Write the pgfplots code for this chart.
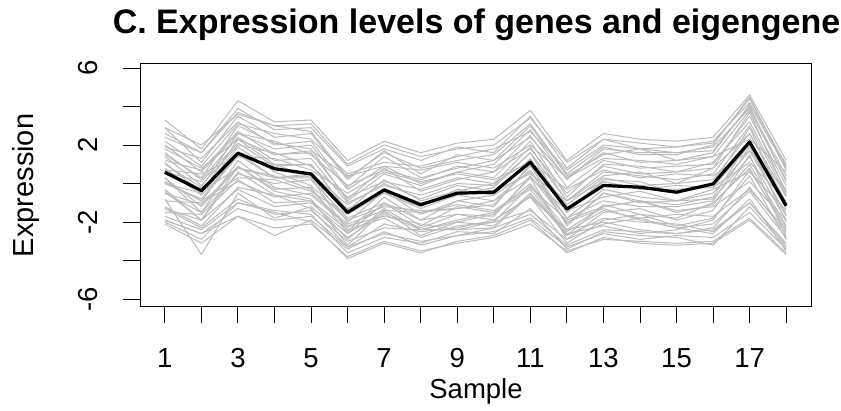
\documentclass[border=0pt]{standalone}
\usepackage{pgfplots}
\pgfplotsset{compat=1.18}
\usepackage{fontspec}
\setmainfont{Liberation Sans}
\definecolor{gl}{HTML}{BBBBBB}
\begin{document}
\begin{tikzpicture}[x=1pt,y=1pt]
\path[use as bounding box] (0pt,0pt) rectangle (841pt,410pt);
\begin{axis}[
  at={(140pt,104pt)}, anchor=south west,
  width=671pt, height=243pt, scale only axis,
  xmin=0.32, xmax=18.68, ymin=-6.36, ymax=6.26,
  axis line style={line width=0.9pt, black},
  xtick={1,...,18},
  xticklabels={1,,3,,5,,7,,9,,11,,13,,15,,17,},
  ytick={-6,-4,-2,0,2,4,6},
  yticklabels={-6,,-2,,2,,6},
  tick align=outside, xtick pos=lower, ytick pos=left,
  major tick length=17pt,
  tick style={line width=0.9pt, black},
  ticklabel style={font=\fontsize{27.5}{33}\selectfont},
  xticklabel style={anchor=base, yshift=-44pt},
  yticklabel style={xshift=-25pt, rotate=90, anchor=base},
  clip=false,
  every axis plot/.append style={line join=round},
]
\pgfplotsset{gline/.style={gl, line width=1pt}}
\addplot[gline] coordinates {(1,3.3)(2,1.8)(3,4.3)(4,3.2)(5,3.3)(6,1.2)(7,2.2)(8,1.6)(9,2.1)(10,2.3)(11,3.8)(12,1.2)(13,2.6)(14,2.3)(15,2.2)(16,2.4)(17,4.6)(18,1.2)};
\addplot[gline] coordinates {(1,2.6)(2,1.6)(3,3.9)(4,2.8)(5,2.9)(6,0.9)(7,1.8)(8,1.2)(9,1.9)(10,1.6)(11,3.5)(12,0.8)(13,2.3)(14,1.8)(15,1.9)(16,2.1)(17,4.4)(18,0.9)};
\addplot[gline] coordinates {(1,2.9)(2,1.1)(3,3.5)(4,2.4)(5,2.6)(6,0.2)(7,1.7)(8,0.5)(9,1.5)(10,1.2)(11,3.0)(12,0.4)(13,1.5)(14,1.8)(15,1.2)(16,1.6)(17,4.1)(18,0.8)};
\addplot[gline] coordinates {(1,1.9)(2,1.3)(3,3.2)(4,2.0)(5,2.2)(6,-0.2)(7,1.4)(8,0.3)(9,0.8)(10,1.2)(11,2.4)(12,0.3)(13,1.6)(14,1.1)(15,1.2)(16,1.4)(17,3.8)(18,0.2)};
\addplot[gline] coordinates {(1,2.0)(2,0.6)(3,2.6)(4,2.2)(5,1.5)(6,-0.1)(7,0.7)(8,0.2)(9,0.9)(10,0.6)(11,2.5)(12,-0.2)(13,1.2)(14,0.8)(15,0.9)(16,1.0)(17,3.5)(18,-0.1)};
\addplot[gline] coordinates {(1,1.2)(2,0.7)(3,2.7)(4,1.5)(5,1.6)(6,-0.8)(7,0.8)(8,-0.4)(9,0.2)(10,0.6)(11,1.8)(12,-0.5)(13,0.9)(14,0.5)(15,0.6)(16,1.1)(17,3.2)(18,-0.4)};
\addplot[gline] coordinates {(1,1.4)(2,-0.1)(3,2.0)(4,1.6)(5,0.9)(6,-0.7)(7,0.1)(8,-0.3)(9,0.3)(10,0.0)(11,1.9)(12,-0.9)(13,0.4)(14,0.6)(15,0.0)(16,0.8)(17,2.6)(18,-0.7)};
\addplot[gline] coordinates {(1,0.6)(2,0.1)(3,2.1)(4,0.9)(5,1.0)(6,-1.4)(7,0.2)(8,-0.9)(9,-0.4)(10,0.0)(11,1.2)(12,-1.1)(13,0.3)(14,-0.1)(15,0.0)(16,0.2)(17,2.6)(18,-1.0)};
\addplot[gline] coordinates {(1,0.8)(2,-0.6)(3,1.4)(4,1.0)(5,0.3)(6,-1.3)(7,-0.5)(8,-1.2)(9,-0.3)(10,-0.6)(11,1.3)(12,-1.5)(13,0.1)(14,-0.3)(15,-0.3)(16,-0.2)(17,2.0)(18,-1.3)};
\addplot[gline] coordinates {(1,0.1)(2,-0.9)(3,1.5)(4,0.3)(5,0.4)(6,-2.0)(7,-0.4)(8,-1.6)(9,-0.9)(10,-0.6)(11,0.6)(12,-1.8)(13,-0.3)(14,-0.7)(15,-0.9)(16,-0.5)(17,1.7)(18,-1.6)};
\addplot[gline] coordinates {(1,0.3)(2,-1.2)(3,0.8)(4,0.4)(5,-0.3)(6,-2.3)(7,-1.1)(8,-1.5)(9,-1.3)(10,-0.9)(11,0.7)(12,-2.1)(13,-0.5)(14,-1.0)(15,-0.9)(16,-0.8)(17,1.4)(18,-1.9)};
\addplot[gline] coordinates {(1,-0.5)(2,-1.1)(3,0.9)(4,-0.3)(5,-0.2)(6,-2.6)(7,-1.0)(8,-2.2)(9,-1.2)(10,-1.5)(11,0.0)(12,-2.4)(13,-1.2)(14,-0.9)(15,-1.5)(16,-1.1)(17,1.0)(18,-2.2)};
\addplot[gline] coordinates {(1,-0.4)(2,-1.9)(3,0.6)(4,-0.6)(5,-0.9)(6,-2.9)(7,-1.3)(8,-2.4)(9,-1.9)(10,-1.5)(11,-0.3)(12,-2.7)(13,-1.1)(14,-1.6)(15,-1.8)(16,-1.0)(17,0.8)(18,-2.5)};
\addplot[gline] coordinates {(1,-1.2)(2,-2.2)(3,-0.2)(4,-0.6)(5,-1.3)(6,-3.3)(7,-2.1)(8,-2.5)(9,-2.3)(10,-1.9)(11,-0.7)(12,-3.1)(13,-1.9)(14,-1.6)(15,-2.2)(16,-1.8)(17,0.4)(18,-2.9)};
\addplot[gline] coordinates {(1,-2.1)(2,-3.1)(3,-1.7)(4,-2.3)(5,-2.1)(6,-3.8)(7,-3.0)(8,-3.5)(9,-3.1)(10,-2.8)(11,-2.1)(12,-3.5)(13,-2.9)(14,-3.0)(15,-3.1)(16,-3.0)(17,-1.8)(18,-3.6)};
\addplot[gline] coordinates {(1,-1.9)(2,-2.6)(3,-1.3)(4,-1.9)(5,-1.7)(6,-3.3)(7,-2.6)(8,-3.0)(9,-2.7)(10,-2.3)(11,-1.6)(12,-3.2)(13,-2.4)(14,-2.5)(15,-2.6)(16,-2.4)(17,-1.0)(18,-3.1)};
\addplot[gline] coordinates {(1,-1.3)(2,-2.3)(3,-0.8)(4,-1.6)(5,-1.4)(6,-3.0)(7,-2.3)(8,-2.4)(9,-2.4)(10,-2.0)(11,-1.4)(12,-2.9)(13,-2.1)(14,-1.8)(15,-2.3)(16,-2.1)(17,-0.4)(18,-2.8)};
\addplot[gline] coordinates {(1,-1.3)(2,-1.9)(3,-0.3)(4,-1.2)(5,-1.0)(6,-2.6)(7,-1.5)(8,-2.3)(9,-1.6)(10,-1.9)(11,-0.7)(12,-2.5)(13,-1.4)(14,-1.8)(15,-1.6)(16,-1.7)(17,-0.3)(18,-2.4)};
\addplot[gline] coordinates {(1,-0.9)(2,-1.0)(3,0.1)(4,-0.7)(5,-0.5)(6,-2.1)(7,-1.4)(8,-1.5)(9,-1.1)(10,-1.4)(11,-0.2)(12,-1.9)(13,-1.2)(14,-0.9)(15,-1.4)(16,-1.2)(17,0.1)(18,-1.9)};
\addplot[gline] coordinates {(1,0.1)(2,-0.9)(3,0.3)(4,0.2)(5,-0.4)(6,-1.6)(7,-0.5)(8,-1.3)(9,-0.6)(10,-0.9)(11,0.3)(12,-1.4)(13,-0.7)(14,-0.4)(15,-0.9)(16,-0.3)(17,0.6)(18,-1.4)};
\addplot[gline] coordinates {(1,0.5)(2,-0.4)(3,0.8)(4,0.3)(5,0.5)(6,-1.1)(7,0.0)(8,-0.8)(9,-0.1)(10,-0.4)(11,0.5)(12,-0.9)(13,0.1)(14,-0.3)(15,-0.1)(16,-0.2)(17,1.1)(18,-0.9)};
\addplot[gline] coordinates {(1,0.7)(2,0.5)(3,1.4)(4,1.3)(5,0.7)(6,-0.5)(7,0.6)(8,0.1)(9,0.5)(10,0.2)(11,1.1)(12,-0.3)(13,0.7)(14,0.3)(15,0.5)(16,0.4)(17,1.7)(18,-0.3)};
\addplot[gline] coordinates {(1,1.8)(2,0.8)(3,2.3)(4,1.5)(5,1.7)(6,0.4)(7,0.9)(8,0.7)(9,1.1)(10,0.8)(11,2.0)(12,0.3)(13,1.3)(14,1.2)(15,1.0)(16,1.4)(17,2.3)(18,0.6)};
\addplot[gline] coordinates {(1,2.4)(2,1.6)(3,3.7)(4,3.0)(5,2.7)(6,0.3)(7,1.6)(8,0.8)(9,1.2)(10,1.5)(11,3.1)(12,0.5)(13,1.9)(14,1.5)(15,1.5)(16,2.0)(17,4.5)(18,0.7)};
\addplot[gline] coordinates {(1,1.5)(2,0.3)(3,3.0)(4,2.1)(5,1.8)(6,-0.9)(7,0.5)(8,-0.1)(9,0.6)(10,0.3)(11,2.2)(12,-0.7)(13,1.0)(14,0.9)(15,0.6)(16,0.8)(17,3.7)(18,-0.5)};
\addplot[gline] coordinates {(1,1.1)(2,-0.5)(3,2.3)(4,1.0)(5,1.0)(6,-1.5)(7,-0.3)(8,-1.0)(9,-0.6)(10,-0.2)(11,1.6)(12,-1.5)(13,0.2)(14,0.1)(15,-0.5)(16,0.0)(17,2.9)(18,-1.3)};
\addplot[gline] coordinates {(1,0.0)(2,-0.8)(3,1.6)(4,0.3)(5,0.3)(6,-2.5)(7,-0.7)(8,-1.9)(9,-0.9)(10,-1.2)(11,1.0)(12,-2.2)(13,-0.5)(14,-0.9)(15,-1.1)(16,-0.7)(17,2.2)(18,-2.0)};
\addplot[gline] coordinates {(1,-0.3)(2,-1.9)(3,0.9)(4,-0.4)(5,-0.8)(6,-3.2)(7,-1.4)(8,-2.7)(9,-2.0)(10,-1.6)(11,0.3)(12,-2.9)(13,-1.5)(14,-1.3)(15,-1.9)(16,-1.4)(17,1.5)(18,-2.8)};
\addplot[gline] coordinates {(1,2.9)(2,2.0)(3,3.6)(4,3.0)(5,3.1)(6,1.0)(7,2.0)(8,1.4)(9,1.8)(10,2.0)(11,3.4)(12,1.1)(13,2.3)(14,2.1)(15,1.9)(16,2.2)(17,4.2)(18,1.0)};
\addplot[gline] coordinates {(1,-0.8)(2,-3.7)(3,-0.5)(4,-1.8)(5,-1.2)(6,-2.8)(7,-1.6)(8,-2.4)(9,-2.0)(10,-2.2)(11,-0.5)(12,-2.7)(13,-1.8)(14,-2.0)(15,-2.1)(16,-2.5)(17,-1.0)(18,-3.2)};
\addplot[gline] coordinates {(1,-1.9)(2,-2.6)(3,-1.7)(4,-2.7)(5,-1.9)(6,-3.4)(7,-2.5)(8,-3.2)(9,-2.7)(10,-2.5)(11,-1.8)(12,-3.3)(13,-2.6)(14,-2.9)(15,-2.7)(16,-2.8)(17,-1.5)(18,-3.4)};
\addplot[gline] coordinates {(1,-2.0)(2,-2.9)(3,-1.0)(4,-1.5)(5,-2.0)(6,-3.9)(7,-3.1)(8,-3.6)(9,-3.0)(10,-2.7)(11,-1.9)(12,-3.6)(13,-2.8)(14,-3.1)(15,-3.2)(16,-3.1)(17,-1.9)(18,-3.7)};
\addplot[gline] coordinates {(1,-0.5)(2,-1.5)(3,0.5)(4,0.0)(5,0.2)(6,-1.8)(7,-1.0)(8,-1.9)(9,-1.6)(10,-1.7)(11,0.4)(12,-2.0)(13,-1.3)(14,-1.9)(15,-2.3)(16,-2.6)(17,-0.8)(18,-3.5)};
\addplot[gline] coordinates {(1,1.0)(2,-0.2)(3,2.6)(4,1.8)(5,2.0)(6,-0.3)(7,0.9)(8,0.0)(9,0.6)(10,1.0)(11,2.8)(12,0.2)(13,1.8)(14,1.6)(15,1.6)(16,1.9)(17,3.9)(18,0.4)};
\addplot[gline] coordinates {(1,0.3)(2,-1.5)(3,1.2)(4,-0.2)(5,-0.6)(6,-2.2)(7,-1.7)(8,-2.1)(9,-2.4)(10,-2.3)(11,-0.6)(12,-2.4)(13,-2.0)(14,-2.4)(15,-2.6)(16,-2.3)(17,-0.2)(18,-2.6)};
\addplot[gline] coordinates {(1,2.2)(2,0.9)(3,3.1)(4,2.6)(5,2.3)(6,0.5)(7,1.1)(8,0.9)(9,1.4)(10,1.8)(11,2.7)(12,0.7)(13,2.0)(14,1.8)(15,1.6)(16,1.7)(17,4.0)(18,0.1)};
\addplot[gline] coordinates {(1,-1.5)(2,-1.6)(3,0.2)(4,-1.0)(5,-0.9)(6,-2.4)(7,-1.8)(8,-2.8)(9,-2.2)(10,-2.0)(11,-0.1)(12,-2.6)(13,-2.2)(14,-2.6)(15,-2.4)(16,-1.9)(17,0.7)(18,-2.3)};
\addplot[gline] coordinates {(1,1.6)(2,0.2)(3,2.4)(4,1.2)(5,1.3)(6,-1.0)(7,-0.1)(8,-0.6)(9,0.0)(10,-0.1)(11,1.6)(12,-0.9)(13,0.6)(14,0.4)(15,0.2)(16,0.5)(17,3.0)(18,-0.6)};
\addplot[gline] coordinates {(1,0.0)(2,-0.5)(3,1.9)(4,0.6)(5,-0.1)(6,-1.9)(7,-1.2)(8,-1.4)(9,-1.3)(10,-1.1)(11,0.9)(12,-1.8)(13,-0.9)(14,-1.2)(15,-1.2)(16,-0.9)(17,1.9)(18,-1.7)};
\addplot[gline] coordinates {(1,-1.7)(2,-2.4)(3,-1.0)(4,-1.4)(5,-1.6)(6,-3.6)(7,-2.8)(8,-3.1)(9,-2.5)(10,-2.6)(11,-1.3)(12,-3.4)(13,-2.5)(14,-2.7)(15,-2.8)(16,-3.2)(17,-1.2)(18,-3.3)};
\addplot[black, line width=3.2pt] coordinates {(1,0.59)(2,-0.37)(3,1.58)(4,0.77)(5,0.5)(6,-1.5)(7,-0.33)(8,-1.1)(9,-0.5)(10,-0.45)(11,1.11)(12,-1.32)(13,-0.1)(14,-0.19)(15,-0.45)(16,-0.02)(17,2.16)(18,-1.15)};
\end{axis}
\node[anchor=base, font=\fontsize{34}{40}\selectfont\bfseries] at (476.5pt,376.5pt) {C. Expression levels of genes and eigengene};
\node[anchor=base, font=\fontsize{27.5}{33}\selectfont] at (476pt,12pt) {Sample};
\node[anchor=base, rotate=90, font=\fontsize{29}{35}\selectfont] at (33pt,224.5pt) {Expression};
\end{tikzpicture}
\end{document}
